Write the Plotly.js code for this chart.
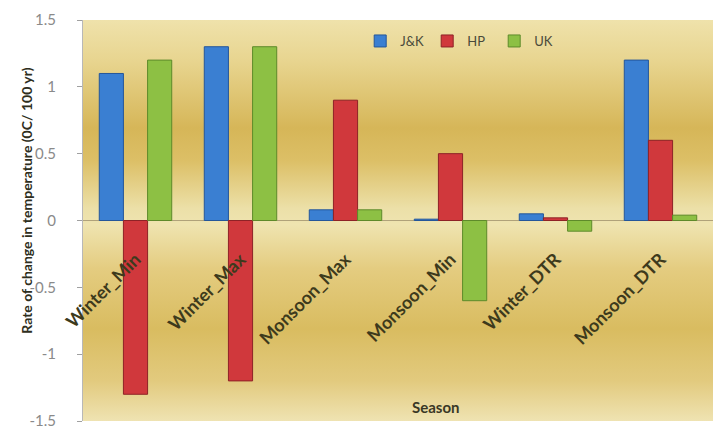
<!DOCTYPE html>
<html>
<head>
<meta charset="utf-8">
<script src="https://cdn.plot.ly/plotly-3.0.1.min.js"></script>
<style>html,body{margin:0;padding:0;background:#fff;}#chart{width:713px;height:432px;}</style>
</head>
<body>
<div id="chart"></div>
<script>
const categories = ["Winter_Min", "Winter_Max", "Monsoon_Max", "Monsoon_Min", "Winter_DTR", "Monsoon_DTR"];
const seriesNames = ["J&K", "HP", "UK"];
const jkValues = [1.1, 1.3, 0.08, 0.01, 0.05, 1.2];
const hpValues = [-1.3, -1.2, 0.9, 0.5, 0.02, 0.6];
const ukValues = [1.2, 1.3, 0.08, -0.6, -0.08, 0.04];
const yTickVals = [-1.5, -1, -0.5, 0, 0.5, 1, 1.5];
const yTickText = ["-1.5", "-1", "-0.5", "0", "0.5", "1", "1.5"];

const fillColors = ["#3a7fd2", "#d0383c", "#8dc044"];
const lineColors = ["#24569a", "#8e2226", "#5e8a2a"];
const allValues = [jkValues, hpValues, ukValues];

const traces = allValues.map((vals, i) => ({
  type: "bar",
  name: seriesNames[i],
  x: categories,
  y: vals,
  marker: {color: fillColors[i], line: {color: lineColors[i], width: 1}},
  hoverinfo: "skip"
}));

const stops = [
  [0, "#efe2ab"], [0.10, "#e8d590"], [0.27, "#d6b658"], [0.35, "#dcbf66"],
  [0.47, "#ece0a8"], [0.51, "#efe4b0"], [0.62, "#e4cc80"], [0.77, "#d9bc60"],
  [0.90, "#e2ca7e"], [1, "#efe3b2"]
];
const svg = "<svg xmlns='http://www.w3.org/2000/svg' width='10' height='100' preserveAspectRatio='none'><defs><linearGradient id='g' x1='0' y1='0' x2='0' y2='1'>" +
  stops.map(s => "<stop offset='" + s[0] + "' stop-color='" + s[1] + "'/>").join("") +
  "</linearGradient></defs><rect width='10' height='100' fill='url(#g)'/></svg>";
const bgUri = "data:image/svg+xml;charset=utf-8," + encodeURIComponent(svg);

const FONT = "Lato, 'Open Sans', sans-serif";

const layout = {
  width: 713, height: 432,
  margin: {l: 83, r: 0, t: 20, b: 11},
  paper_bgcolor: "#ffffff",
  plot_bgcolor: "rgba(0,0,0,0)",
  barmode: "group",
  bargap: 0.31,
  bargroupgap: 0,
  showlegend: true,
  legend: {
    orientation: "h", x: 0.44, y: 0.985, xanchor: "left", yanchor: "top",
    bgcolor: "rgba(0,0,0,0)", font: {family: FONT, size: 13, color: "#4a4a3a"},
    itemwidth: 30, tracegroupgap: 0, entrywidth: 22, entrywidthmode: "pixels"
  },
  images: [{
    source: bgUri, xref: "paper", yref: "paper", x: 0, y: 1, sizex: 1, sizey: 1,
    sizing: "stretch", layer: "below", xanchor: "left", yanchor: "top"
  }],
  xaxis: {
    anchor: "free", position: 0.5,
    tickangle: -45, ticks: "", showgrid: false, zeroline: false,
    showline: false, fixedrange: true,
    tickfont: {family: FONT, size: 18, color: "#3d3a1c", weight: "bold"},
    ticklabelstandoff: 24
  },
  yaxis: {
    range: [-1.5, 1.5], tickvals: yTickVals, ticktext: yTickText,
    ticks: "outside", ticklen: 5, tickcolor: "#a0a0a0",
    showline: true, linecolor: "#b8b8b8", linewidth: 1,
    showgrid: false, zeroline: true, zerolinecolor: "#b0a27a", zerolinewidth: 1,
    tickfont: {family: FONT, size: 15, color: "#8a8a8a"},
    ticklabelstandoff: 18
  },
  annotations: [
    {xref: "paper", yref: "paper", x: 0.56, y: 0.035, text: "<b>Season</b>", showarrow: false,
     xanchor: "center", yanchor: "middle", font: {family: FONT, size: 15, color: "#3a3826"}},
    {xref: "paper", yref: "paper", x: -0.09, y: 0.55, text: "<b>Rate of change in temperature (0C/ 100 yr)</b>",
     showarrow: false, textangle: -90, xanchor: "center", yanchor: "middle",
     font: {family: FONT, size: 14, color: "#2e2e20"}}
  ]
};

Plotly.newPlot("chart", traces, layout, {displayModeBar: false, staticPlot: true});
</script>
</body>
</html>
